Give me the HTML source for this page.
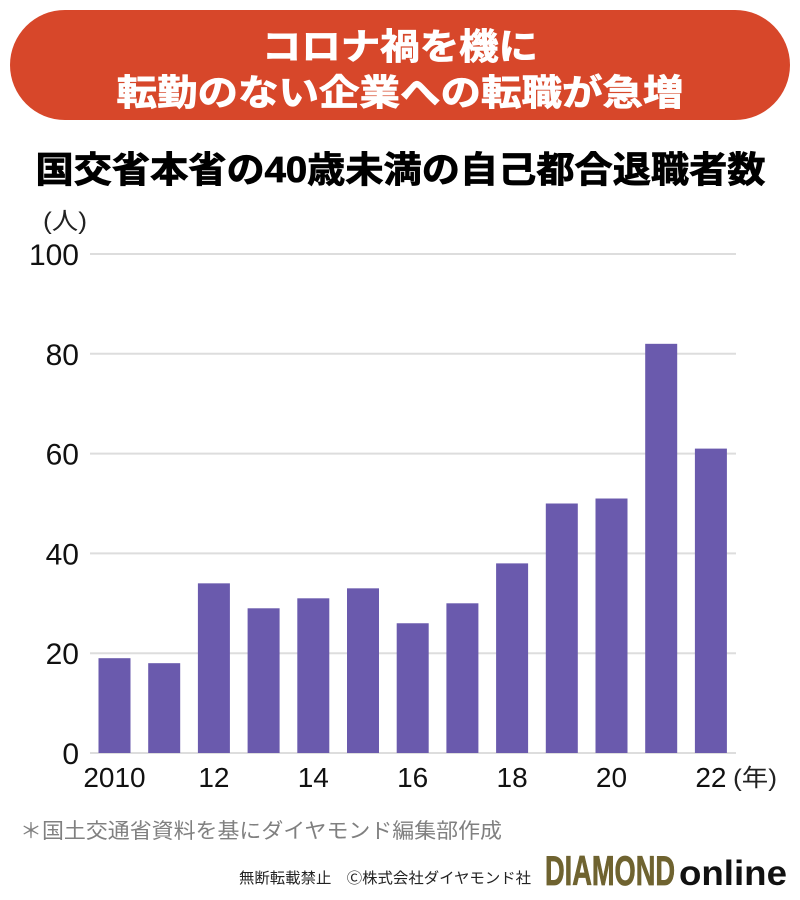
<!DOCTYPE html>
<html lang="ja">
<head>
<meta charset="utf-8">
<title>国交省本省の40歳未満の自己都合退職者数</title>
<style>
html,body{margin:0;padding:0;background:#fff;}
body{width:800px;height:900px;overflow:hidden;}
svg{display:block;}
text{font-family:"Liberation Sans","Noto Sans CJK JP",sans-serif;}
</style>
</head>
<body>
<svg id="chart" width="800" height="900" viewBox="0 0 800 900" xmlns="http://www.w3.org/2000/svg">
  <rect x="0" y="0" width="800" height="900" fill="#ffffff"/>
  <rect x="10" y="10" width="780" height="110" rx="55" ry="55" fill="#d7472a"/>
  <text x="400" y="59" text-anchor="middle" font-size="36" font-weight="700" fill="#ffffff" stroke="#ffffff" stroke-width="0.8" textLength="276" lengthAdjust="spacingAndGlyphs">コロナ禍を機に</text>
  <text x="400" y="105" text-anchor="middle" font-size="36" font-weight="700" fill="#ffffff" stroke="#ffffff" stroke-width="0.8" textLength="567" lengthAdjust="spacingAndGlyphs">転勤のない企業への転職が急増</text>
  <text x="400.500" y="182" text-anchor="middle" font-size="36" font-weight="700" fill="#000000" stroke="#000000" stroke-width="0.8" textLength="730" lengthAdjust="spacingAndGlyphs">国交省本省の40歳未満の自己都合退職者数</text>
  <text x="65" y="229" text-anchor="middle" font-size="24" fill="#222222" textLength="44" lengthAdjust="spacingAndGlyphs">(人)</text>
  <g id="grid"></g>
  <g id="bars"></g>
  <g id="yticks"></g>
  <g id="xticks"></g>
  <text x="755" y="786" text-anchor="middle" font-size="24" fill="#222222" textLength="44" lengthAdjust="spacingAndGlyphs">(年)</text>
  <text x="20" y="838" font-size="21" fill="#808080" textLength="482" lengthAdjust="spacingAndGlyphs">＊国土交通省資料を基にダイヤモンド編集部作成</text>
  <text x="239" y="883" font-size="15" fill="#222222" textLength="292" lengthAdjust="spacingAndGlyphs">無断転載禁止　Ⓒ株式会社ダイヤモンド社</text>
  <text x="545" y="885" font-size="42" font-weight="700" fill="#6f6330" stroke="#6f6330" stroke-width="0.8" textLength="130" lengthAdjust="spacingAndGlyphs">DIAMOND</text>
  <text x="679" y="885" font-size="35" font-weight="700" fill="#111111" textLength="108" lengthAdjust="spacingAndGlyphs">online</text>
</svg>
<script>
const years = [2010, 2011, 2012, 2013, 2014, 2015, 2016, 2017, 2018, 2019, 2020, 2021, 2022];
const retirees = [19, 18, 34, 29, 31, 33, 26, 30, 38, 50, 51, 82, 61];
const yTickValues = [0, 20, 40, 60, 80, 100];
const xTickYears = [2010, 2012, 2014, 2016, 2018, 2020, 2022];
const xTickLabels = ['2010', '12', '14', '16', '18', '20', '22'];

const NS = 'http://www.w3.org/2000/svg';
const plot = { left: 90, right: 736, top: 254, bottom: 753, yMax: 100, firstCenter: 114.500, step: 49.700, barWidth: 32 };

function yScale(value) {
  return plot.bottom - (value / plot.yMax) * (plot.bottom - plot.top);
}
function xScale(year) {
  return plot.firstCenter + (year - years[0]) * plot.step;
}

const gridGroup = document.getElementById('grid');
const yTickGroup = document.getElementById('yticks');
yTickValues.forEach(function (tick) {
  const line = document.createElementNS(NS, 'line');
  
  
  line.setAttribute('x1', plot.left);
  line.setAttribute('x2', plot.right);
  line.setAttribute('y1', yScale(tick));
  line.setAttribute('y2', yScale(tick));
  line.setAttribute('stroke', '#dddddd');
  line.setAttribute('stroke-width', '2');
  gridGroup.appendChild(line);

  const label = document.createElementNS(NS, 'text');
  
  
  label.setAttribute('x', 79);
  label.setAttribute('y', yScale(tick) + 11);
  label.setAttribute('text-anchor', 'end');
  label.setAttribute('font-size', '30');
  label.setAttribute('fill', '#111111');
  label.textContent = String(tick);
  yTickGroup.appendChild(label);
});

const barGroup = document.getElementById('bars');
retirees.forEach(function (value, i) {
  const bar = document.createElementNS(NS, 'rect');
  
  
  bar.setAttribute('x', xScale(years[i]) - plot.barWidth / 2);
  bar.setAttribute('y', yScale(value));
  bar.setAttribute('width', plot.barWidth);
  bar.setAttribute('height', plot.bottom - yScale(value));
  bar.setAttribute('fill', '#6a5aad');
  barGroup.appendChild(bar);
});

const xTickGroup = document.getElementById('xticks');
xTickYears.forEach(function (year, i) {
  const label = document.createElementNS(NS, 'text');
  
  
  label.setAttribute('x', xScale(year));
  label.setAttribute('y', 787);
  label.setAttribute('text-anchor', 'middle');
  label.setAttribute('font-size', '28');
  label.setAttribute('fill', '#111111');
  label.textContent = xTickLabels[i];
  xTickGroup.appendChild(label);
});
</script>
</body>
</html>
